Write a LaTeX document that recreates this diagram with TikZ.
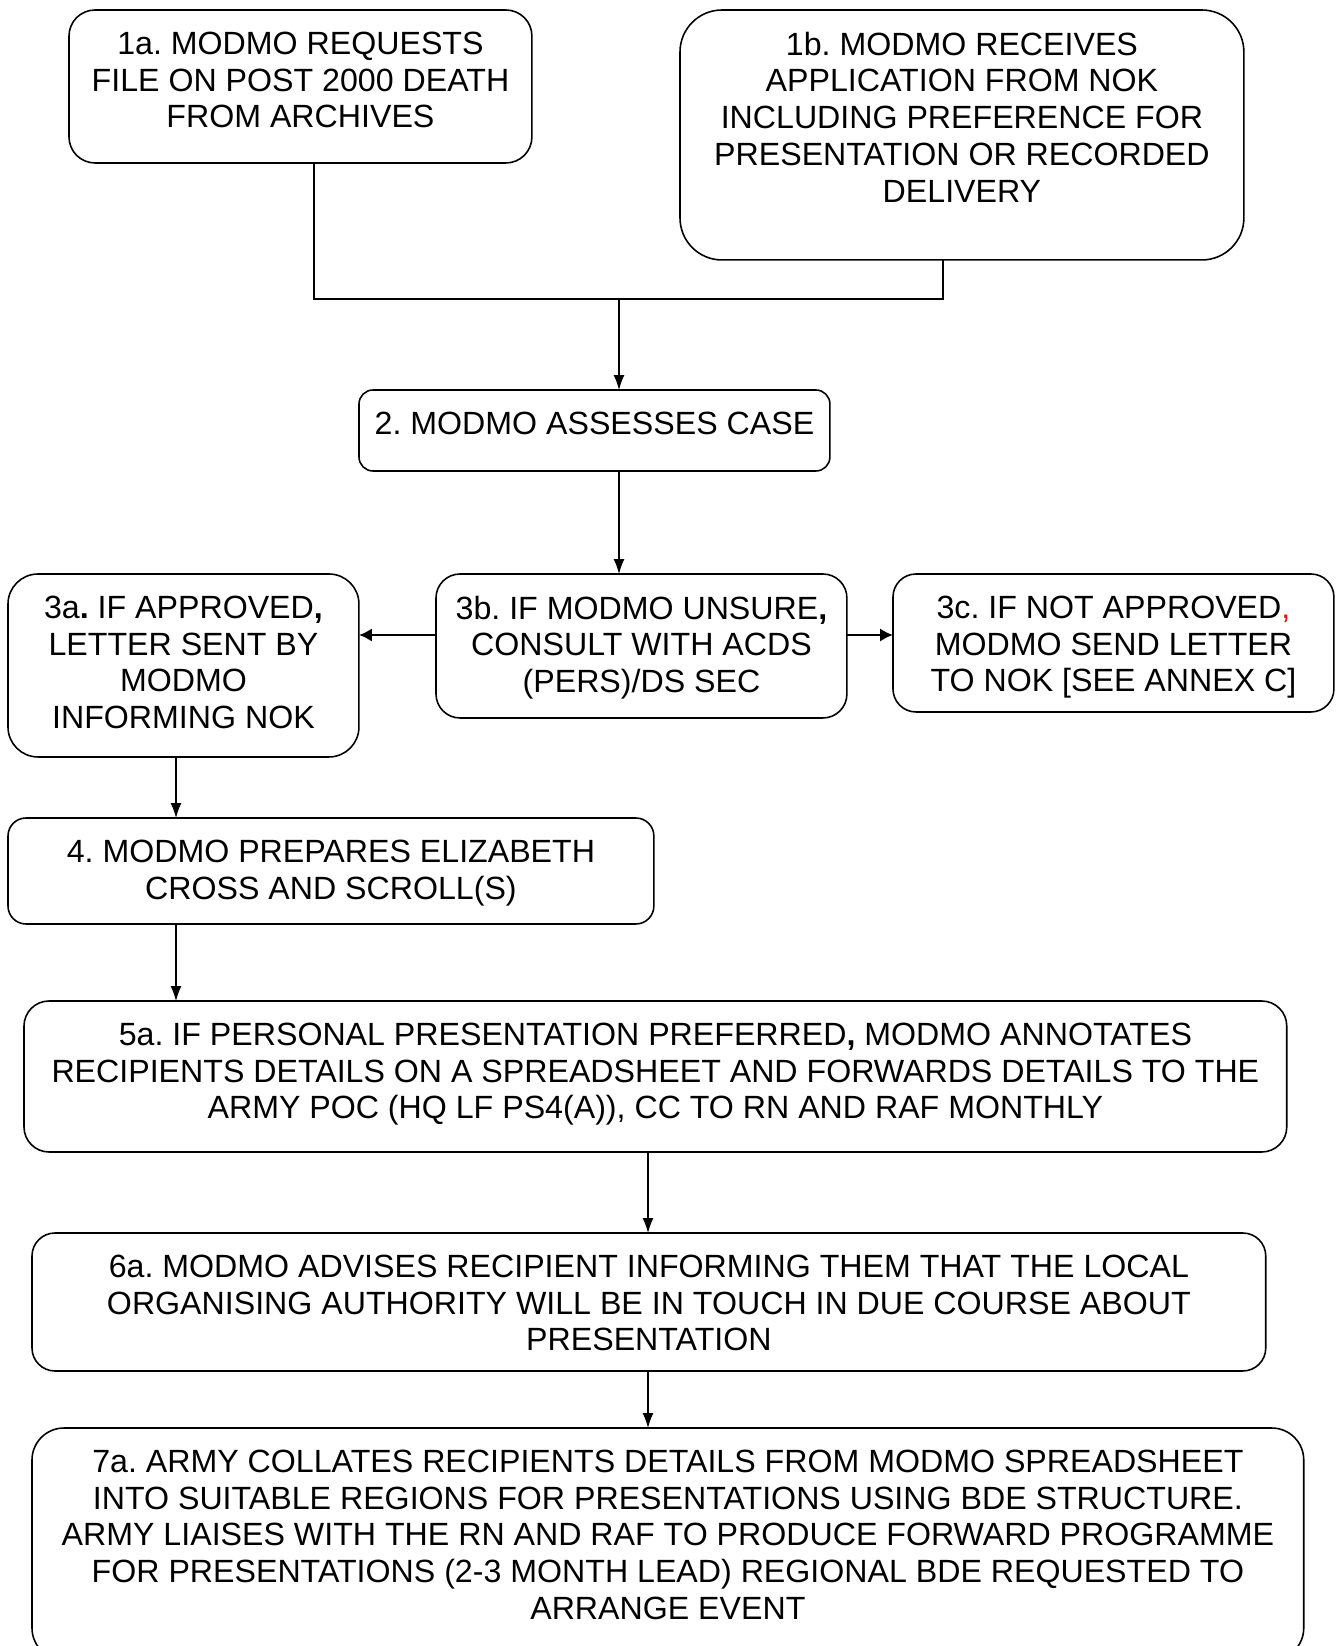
\documentclass[tikz,border=0pt]{standalone}
\usepackage{fontspec}
\setmainfont{Liberation Sans}
\usetikzlibrary{positioning,arrows.meta}
\frenchspacing

\begin{document}
\begin{tikzpicture}[x=0.02cm,y=-0.02cm,
  stepbox/.style={draw, line width=0.9pt, outer sep=0pt, anchor=north west},
  txt/.style={align=center, inner sep=0pt, font=\fontsize{18.3}{20.9}\selectfont},
  link/.style={line width=0.75pt},
  arr/.style={line width=0.75pt, -{Latex[length=0.3cm,width=0.22cm]}},
  harr/.style={line width=1.5pt, -{Latex[length=0.26cm,width=0.27cm]}}]
\useasboundingbox (0,0) rectangle (1336,1646);

% boxes (pixel grid, y down)
\node[stepbox, rounded corners=0.52cm, minimum width=9.26cm, minimum height=3.06cm] (s1a) at (69,10) {};
\node[stepbox, rounded corners=0.84cm, minimum width=11.28cm, minimum height=5.0cm] (s1b) at (680,10) {};
\node[stepbox, rounded corners=0.28cm, minimum width=9.42cm, minimum height=1.62cm] (s2) at (359,390) {};
\node[stepbox, rounded corners=0.6cm, minimum width=7.02cm, minimum height=3.66cm] (s3a) at (8,574) {};
\node[stepbox, rounded corners=0.48cm, minimum width=8.22cm, minimum height=2.88cm] (s3b) at (436,574) {};
\node[stepbox, rounded corners=0.46cm, minimum width=8.82cm, minimum height=2.76cm] (s3c) at (893,574) {};
\node[stepbox, rounded corners=0.36cm, minimum width=12.92cm, minimum height=2.12cm] (s4) at (8,818) {};
\node[stepbox, rounded corners=0.5cm, minimum width=25.26cm, minimum height=3.02cm] (s5a) at (24,1001) {};
\node[stepbox, rounded corners=0.46cm, minimum width=24.68cm, minimum height=2.76cm] (s6a) at (32,1233) {};
\node[stepbox, rounded corners=0.64cm, minimum width=25.44cm, minimum height=4.64cm] (s7a) at (32,1428) {};

% texts
\node[txt, below=0.43cm of s1a.north] (t1a) {1a. MODMO REQUESTS\\FILE ON POST 2000 DEATH\\FROM ARCHIVES};
\node[txt, below=0.43cm of s1b.north] (t1b) {1b. MODMO RECEIVES\\APPLICATION FROM NOK\\INCLUDING PREFERENCE FOR\\PRESENTATION OR RECORDED\\DELIVERY};
\node[txt, below=0.43cm of s2.north] (t2) {2. MODMO ASSESSES CASE};
\node[txt, below=0.43cm of s3a.north] (t3a) {3a\textbf{.} IF APPROVED\textbf{,}\\LETTER SENT BY\\MODMO\\INFORMING NOK};
\node[txt, below=0.43cm of s3b.north] (t3b) {3b. IF MODMO UNSURE\textbf{,}\\CONSULT WITH ACDS\\(PERS)/DS SEC};
\node[txt, below=0.43cm of s3c.north] (t3c) {3c. IF NOT APPROVED{\color{red},}\\MODMO SEND LETTER\\TO NOK [SEE ANNEX C]};
\node[txt, below=0.43cm of s4.north] (t4) {4. MODMO PREPARES ELIZABETH\\CROSS AND SCROLL(S)};
\node[txt, below=0.43cm of s5a.north] (t5a) {5a. IF PERSONAL PRESENTATION PREFERRED\textbf{,} MODMO ANNOTATES\\RECIPIENTS DETAILS ON A SPREADSHEET AND FORWARDS DETAILS TO THE\\ARMY POC (HQ LF PS4(A)), CC TO RN AND RAF MONTHLY};
\node[txt, below=0.43cm of s6a.north] (t6a) {6a. MODMO ADVISES RECIPIENT INFORMING THEM THAT THE LOCAL\\ORGANISING AUTHORITY WILL BE IN TOUCH IN DUE COURSE ABOUT\\PRESENTATION};
\node[txt, below=0.43cm of s7a.north] (t7a) {7a. ARMY COLLATES RECIPIENTS DETAILS FROM MODMO SPREADSHEET\\INTO SUITABLE REGIONS FOR PRESENTATIONS USING BDE STRUCTURE.\\ARMY LIAISES WITH THE RN AND RAF TO PRODUCE FORWARD PROGRAMME\\FOR PRESENTATIONS (2-3 MONTH LEAD) REGIONAL BDE REQUESTED TO\\ARRANGE EVENT};

% connectors
\coordinate (j) at (619,299);
\coordinate (h) at (0,635);
\coordinate (v) at (176,0);
\coordinate (w) at (648,0);
\draw[link] ([xshift=0.27cm]s1a.south) |- (j) -| ([xshift=-0.38cm]s1b.south);
\draw[arr] (j) -- (s2.north -| j);
\draw[arr] (s2.south -| j) -- (s3b.north -| j);
\draw[harr] (s3b.west |- h) -- (s3a.east |- h);
\draw[harr] (s3b.east |- h) -- (s3c.west |- h);
\foreach \a/\b in {s3a/s4, s4/s5a} {
\draw[arr] (\a.south -| v) -- (\b.north -| v);
}
\foreach \a/\b in {s5a/s6a, s6a/s7a} {
\draw[arr] (\a.south -| w) -- (\b.north -| w);
}
\end{tikzpicture}
\end{document}
